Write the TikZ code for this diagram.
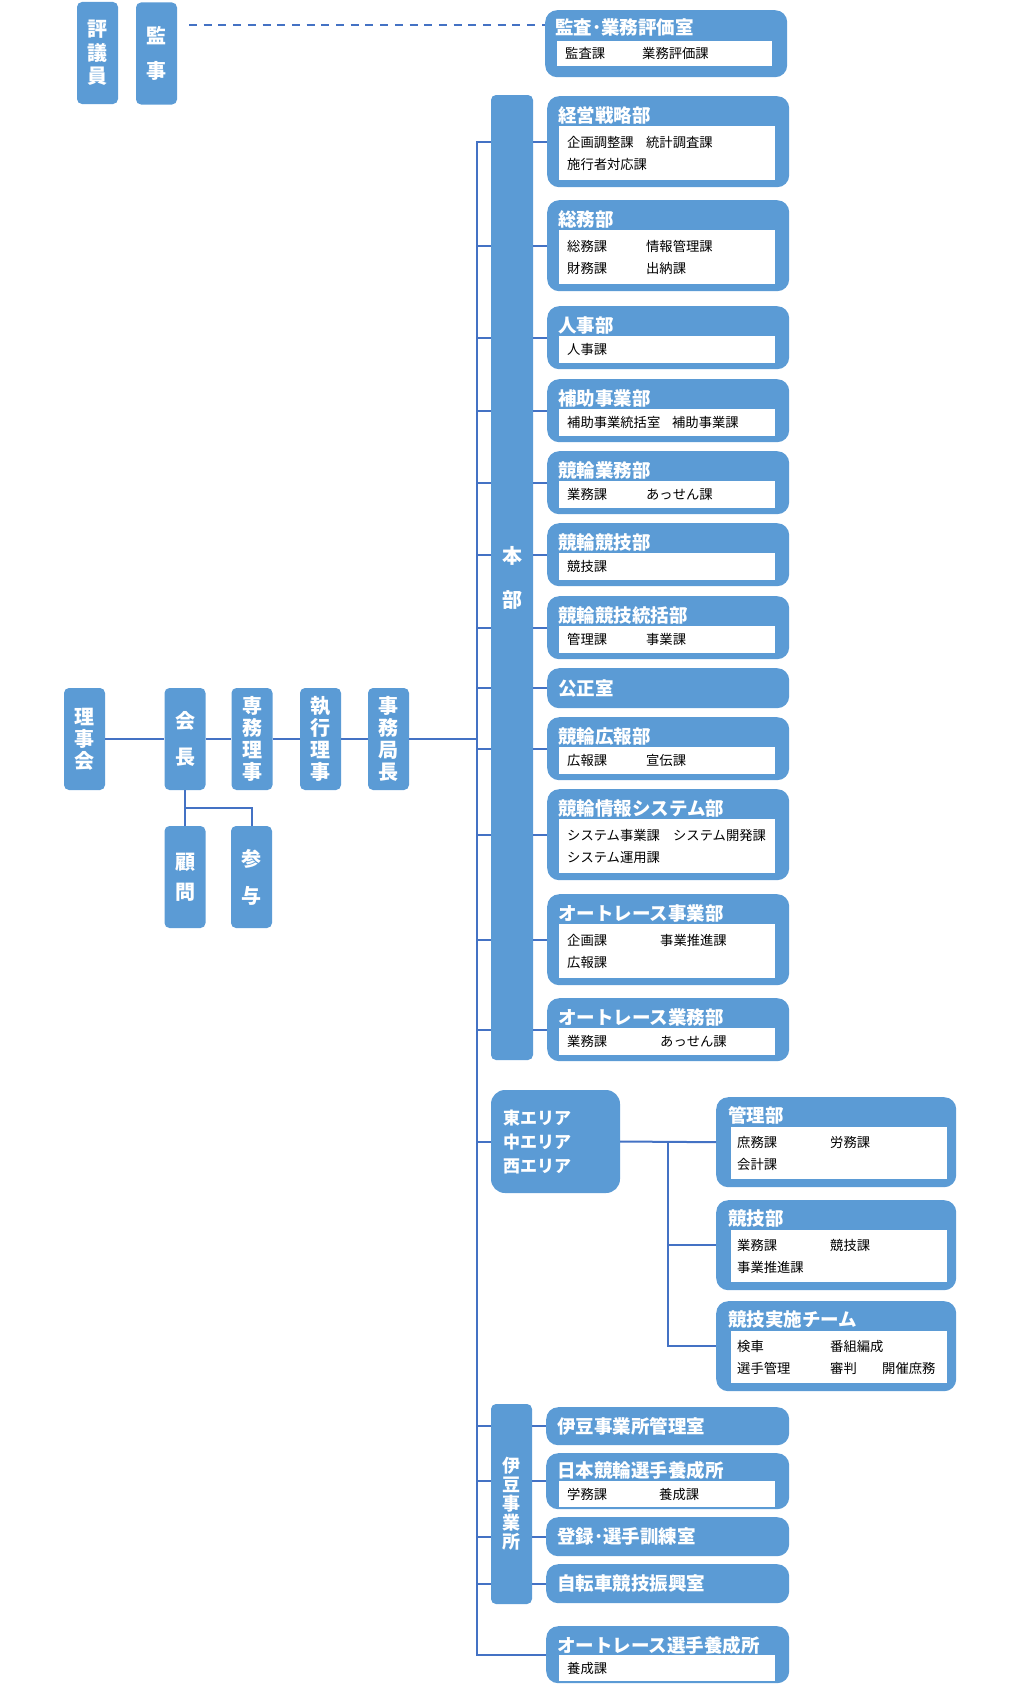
\documentclass[tikz,border=0pt]{standalone}
\usepackage{fontspec}
\setmainfont{Noto Sans CJK JP}
\usetikzlibrary{positioning,calc}
\definecolor{BoxBlue}{RGB}{91,155,213}
\definecolor{LineBlue}{RGB}{68,114,196}
\newcommand{\col}[2][79pt]{\makebox[#1][l]{#2}}

\begin{document}
\begin{tikzpicture}[x=1pt, y=-1pt,
    every node/.style={inner sep=0pt},
    postbox/.style={rectangle, rounded corners=5pt, fill=BoxBlue, text=white, font=\bfseries\fontsize{20}{22}\selectfont, minimum width=41pt, minimum height=102pt, align=center},
    dept/.style={rectangle, rounded corners=12pt, fill=BoxBlue, anchor=north west, minimum width=242pt},
    deptname/.style={anchor=west, text=white, font=\bfseries\fontsize{18.5}{20}\selectfont},
    sect/.style={anchor=north west, fill=white, text width=200pt, inner xsep=8pt, minimum height=27pt, align=left, font=\fontsize{13.3}{22}\selectfont},
    areasect/.style={sect, text width=204pt, inner xsep=6pt, minimum height=52pt},
    conn/.style={draw=LineBlue, line width=2pt}
  ]
  \useasboundingbox (0,0) rectangle (1020,1686);

  % top left
  \node[postbox] (hyogi) at (97.5,53) {評\\[1.5pt]議\\[1.5pt]員};
  \node[postbox] (kanji) at (156.5,53.5) {監\\[13pt]事};

  % main chain
  \node[postbox] (rijikai) at (84.5,739) {理\\事\\会};
  \node[postbox] (kaicho) at (185,739) {会\\[14pt]長};
  \node[postbox] (senmu) at (252,739) {専\\務\\理\\事};
  \node[postbox] (shikko) at (320.5,739) {執\\行\\理\\事};
  \node[postbox] (jimu) at (388.5,739) {事\\務\\局\\長};
  \node[postbox] (komon) at (185,877) {顧\\[8pt]問};
  \node[postbox] (sanyo) at (251.5,877) {参\\[15pt]与};

  % bars
  \node[postbox, minimum width=42pt, minimum height=965pt] (hombu) at (512,577.5) {本\\[22pt]部};
  \node[postbox, minimum height=200pt, font=\bfseries\fontsize{18}{19}\selectfont] (izu) at (511.5,1504) {伊\\豆\\事\\業\\所};
  \node[postbox, rounded corners=14pt, minimum width=129pt, minimum height=103pt, text width=105pt, inner xsep=12pt, align=left, font=\bfseries\fontsize{17}{24}\selectfont] (area) at (555.5,1141.5) {東エリア\\中エリア\\西エリア};

  % audit
  \node[dept, minimum height=67pt] (kansa) at (545,10) {};
  \node[deptname] at ([xshift=10pt,yshift=-17pt]kansa.north west) {監査･業務評価室};
  \node[sect, text width=199pt, minimum height=25pt] at ([xshift=12pt,yshift=-31pt]kansa.north west) {\col[77pt]{監査課}業務評価課};

  % head office
  \node[dept, minimum height=91pt] (keiei) at (547,96) {};
  \node[deptname] at ([xshift=11pt,yshift=-19pt]keiei.north west) {経営戦略部};
  \node[sect, minimum height=54pt] at ([xshift=12pt,yshift=-30pt]keiei.north west) {\col{企画調整課}統計調査課\\施行者対応課};

  \node[dept, minimum height=91pt] (somu) at (547,200) {};
  \node[deptname] at ([xshift=11pt,yshift=-19pt]somu.north west) {総務部};
  \node[sect, minimum height=54pt] at ([xshift=12pt,yshift=-30pt]somu.north west) {\col{総務課}情報管理課\\\col{財務課}出納課};

  \node[dept, minimum height=63pt] (jinji) at (547,306) {};
  \node[deptname] at ([xshift=11pt,yshift=-19pt]jinji.north west) {人事部};
  \node[sect] at ([xshift=12pt,yshift=-30pt]jinji.north west) {人事課};

  \node[dept, minimum height=63pt] (hojo) at (547,379) {};
  \node[deptname] at ([xshift=11pt,yshift=-19pt]hojo.north west) {補助事業部};
  \node[sect] at ([xshift=12pt,yshift=-30pt]hojo.north west) {\col[105pt]{補助事業統括室}補助事業課};

  \node[dept, minimum height=63pt] (gyomu) at (547,451) {};
  \node[deptname] at ([xshift=11pt,yshift=-19pt]gyomu.north west) {競輪業務部};
  \node[sect] at ([xshift=12pt,yshift=-30pt]gyomu.north west) {\col{業務課}あっせん課};

  \node[dept, minimum height=63pt] (kyogi) at (547,523) {};
  \node[deptname] at ([xshift=11pt,yshift=-19pt]kyogi.north west) {競輪競技部};
  \node[sect] at ([xshift=12pt,yshift=-30pt]kyogi.north west) {競技課};

  \node[dept, minimum height=63pt] (tokatsu) at (547,596) {};
  \node[deptname] at ([xshift=11pt,yshift=-19pt]tokatsu.north west) {競輪競技統括部};
  \node[sect] at ([xshift=12pt,yshift=-30pt]tokatsu.north west) {\col{管理課}事業課};

  \node[dept, minimum height=40pt] (kosei) at (547,668) {};
  \node[deptname] at ([xshift=11pt]kosei.west) {公正室};

  \node[dept, minimum height=63pt] (koho) at (547,717) {};
  \node[deptname] at ([xshift=11pt,yshift=-19pt]koho.north west) {競輪広報部};
  \node[sect] at ([xshift=12pt,yshift=-30pt]koho.north west) {\col{広報課}宣伝課};

  \node[dept, minimum height=91pt] (joho) at (547,789) {};
  \node[deptname] at ([xshift=11pt,yshift=-19pt]joho.north west) {競輪情報システム部};
  \node[sect, minimum height=54pt] at ([xshift=12pt,yshift=-30pt]joho.north west) {\col[106pt]{システム事業課}システム開発課\\システム運用課};

  \node[dept, minimum height=91pt] (arjigyo) at (547,894) {};
  \node[deptname] at ([xshift=11pt,yshift=-19pt]arjigyo.north west) {オートレース事業部};
  \node[sect, minimum height=54pt] at ([xshift=12pt,yshift=-30pt]arjigyo.north west) {\col[93pt]{企画課}事業推進課\\広報課};

  \node[dept, minimum height=63pt] (argyomu) at (547,998) {};
  \node[deptname] at ([xshift=11pt,yshift=-19pt]argyomu.north west) {オートレース業務部};
  \node[sect] at ([xshift=12pt,yshift=-30pt]argyomu.north west) {\col[93pt]{業務課}あっせん課};

  % areas
  \node[dept, minimum width=240pt, minimum height=90pt] (kanri) at (716,1097) {};
  \node[deptname] at ([xshift=12pt,yshift=-18pt]kanri.north west) {管理部};
  \node[areasect] at ([xshift=15pt,yshift=-30pt]kanri.north west) {\col[93pt]{庶務課}労務課\\会計課};

  \node[dept, minimum width=240pt, minimum height=90pt] (kyogibu) at (716,1200) {};
  \node[deptname] at ([xshift=12pt,yshift=-18pt]kyogibu.north west) {競技部};
  \node[areasect] at ([xshift=15pt,yshift=-30pt]kyogibu.north west) {\col[93pt]{業務課}競技課\\事業推進課};

  \node[dept, minimum width=240pt, minimum height=90pt] (jisshi) at (716,1301) {};
  \node[deptname] at ([xshift=12pt,yshift=-18pt]jisshi.north west) {競技実施チーム};
  \node[areasect] at ([xshift=15pt,yshift=-30pt]jisshi.north west) {\col[93pt]{検車}番組編成\\\col[93pt]{選手管理}\col[52pt]{審判}開催庶務};

  % izu
  \node[dept, minimum width=243pt, minimum height=38pt] (izukanri) at (546,1407) {};
  \node[deptname] at ([xshift=11pt]izukanri.west) {伊豆事業所管理室};

  \node[dept, minimum width=243pt, minimum height=56pt] (yosei) at (546,1453) {};
  \node[deptname] at ([xshift=11pt,yshift=-17pt]yosei.north west) {日本競輪選手養成所};
  \node[sect, minimum height=26pt] at ([xshift=13pt,yshift=-28pt]yosei.north west) {\col[92pt]{学務課}養成課};

  \node[dept, minimum width=243pt, minimum height=39pt] (toroku) at (546,1517) {};
  \node[deptname] at ([xshift=11pt]toroku.west) {登録･選手訓練室};

  \node[dept, minimum width=243pt, minimum height=39pt] (shinko) at (546,1564) {};
  \node[deptname] at ([xshift=11pt]shinko.west) {自転車競技振興室};

  \node[dept, minimum width=243pt, minimum height=57pt] (aryosei) at (546,1626) {};
  \node[deptname] at ([xshift=11pt,yshift=-19pt]aryosei.north west) {オートレース選手養成所};
  \node[sect, minimum height=26pt] at ([xshift=13pt,yshift=-29pt]aryosei.north west) {養成課};

  % connectors
  \coordinate (trunk) at (477,0);
  \coordinate (bus) at (668,0);
  \coordinate (dashstart) at (189,25);
  \draw[conn, dash pattern=on 8pt off 6.7pt] (dashstart) -- (dashstart -| kansa.west);
  \draw[conn] (rijikai) -- (kaicho) -- (senmu) -- (shikko) -- (jimu) -- (trunk |- jimu);
  \draw[conn] (kaicho.south) -- (komon.north);
  \draw[conn] ($(kaicho.south)!0.5!(komon.north)$) -| (sanyo.north);
  \draw[conn] (hombu.west |- keiei.west) -- (trunk |- keiei.west) -- (trunk |- aryosei.west) -- (aryosei.west);
  \foreach \d in {keiei,somu,jinji,hojo,gyomu,kyogi,tokatsu,kosei,koho,joho,arjigyo,argyomu}
    \draw[conn] (trunk |- \d.west) -- (hombu.west |- \d.west) (hombu.east |- \d.west) -- (\d.west);
  \foreach \d in {izukanri,yosei,toroku,shinko}
    \draw[conn] (trunk |- \d.west) -- (izu.west |- \d.west) (izu.east |- \d.west) -- (\d.west);
  \draw[conn] (trunk |- area.west) -- (area.west);
  \draw[conn] (area.east) -- (kanri.west);
  \draw[conn] (bus |- kanri.west) |- (jisshi.west);
  \draw[conn] (bus |- kyogibu.west) -- (kyogibu.west);
\end{tikzpicture}
\end{document}
